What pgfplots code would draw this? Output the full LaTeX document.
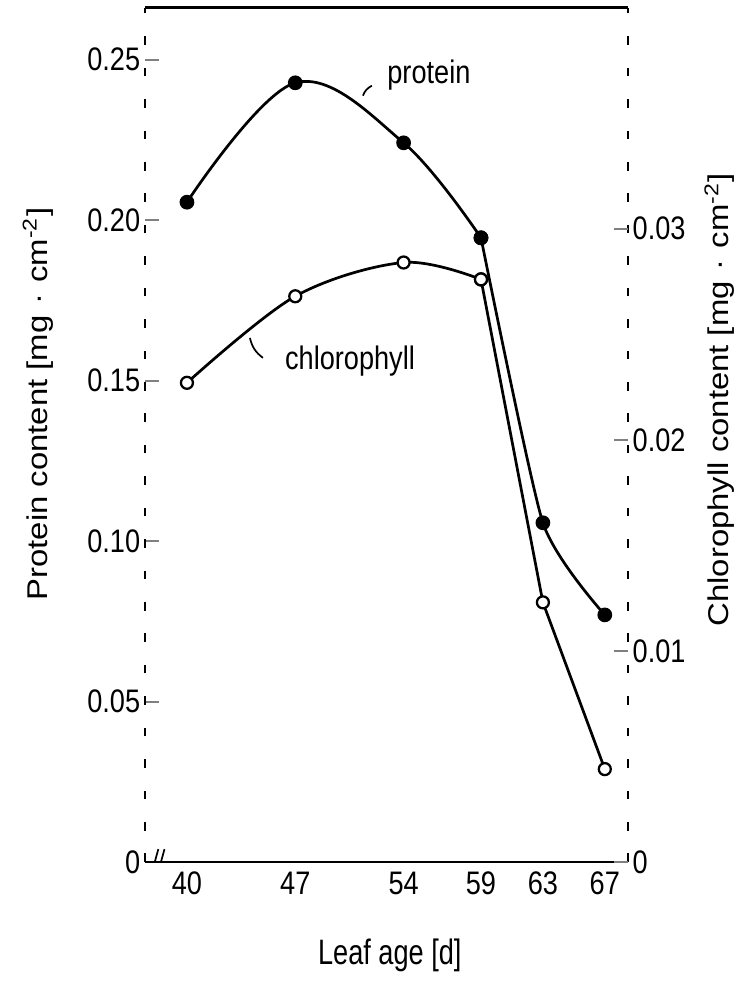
\documentclass[border=0pt]{standalone}
\usepackage{fontspec}
\setmainfont{Liberation Sans}
\usepackage{graphicx}
\usepackage{pgfplots}
\pgfplotsset{compat=1.18}

% the scan is stretched vertically: stretch horizontal text up, rotated text along its length
\newcommand\vs[1]{\scalebox{1}[1.2]{#1}}
\newcommand\hs[1]{\scalebox{1.15}[1]{#1}}

\begin{document}
\begin{tikzpicture}
\pgfplotsset{
  common/.style={
    scale only axis, width=169pt, height=299pt,
    xmin=37.29, xmax=68.49,
    tick align=inside,
    major tick length=5pt,
    /pgf/number format/assume math mode=true,
    ticklabel style={font=\fontsize{9.5}{11}\selectfont},
    tick style={line width=0.7pt},
  }
}
\begin{axis}[common,
  ymin=0, ymax=0.2662,
  separate axis lines,
  x axis line style={line width=0.9pt, solid},
  y axis line style={line width=0.6pt, dash pattern=on 3pt off 8pt},
  xtick={40,47,54,59,63,67},
  xticklabels={\vs{40},\vs{47},\vs{54},\vs{59},\vs{63},\vs{67}},
  xtick style={draw=none},
  xtick pos=bottom,
  ytick={0,0.05,0.10,0.15,0.20,0.25},
  yticklabels={\vs{0},\vs{0.05},\vs{0.10},\vs{0.15},\vs{0.20},\vs{0.25}},
  ytick pos=left,
  yticklabel style={inner sep=1.5pt},
  xlabel={\scalebox{1}[1.3]{Leaf age [d]}},
  xlabel style={font=\fontsize{9.5}{11}\selectfont, at={(axis description cs:0.507,-0.109)}, anchor=center},
  ylabel={\hs{Protein content [mg\,\,·\,\,cm\textsuperscript{-2}]}},
  ylabel style={font=\fontsize{10}{12}\selectfont, at={(axis description cs:-0.222,0.536)}, anchor=center, rotate=0},
]
% protein: smooth arc up to day 59, then the steep fall
\addplot[black, line width=0.95pt, smooth, tension=0.6, mark=*, mark size=2.1pt]
  coordinates {(40,0.2056) (47,0.2428) (54,0.2241) (59,0.1945)};
\addplot[black, line width=0.95pt, smooth, tension=0.35, mark=*, mark size=2.1pt]
  coordinates {(59,0.1945) (63,0.1057) (67,0.0770)};

\node[anchor=base west, font=\fontsize{9.5}{11}\selectfont] at (axis cs:52.3,0.2425) {\vs{protein}};
\draw[line width=0.6pt] (axis cs:51.37,0.2388) to[bend left=20] (axis cs:51.95,0.2419);
\node[anchor=base west, font=\fontsize{9.5}{11}\selectfont] at (axis cs:45.69,0.1534) {\vs{chlorophyll}};
\draw[line width=0.6pt] (axis cs:44.07,0.1633) to[bend right=20] (axis cs:44.91,0.1571);

% axis break on the x axis
\draw[line width=0.6pt] (axis cs:37.75,-0.003) -- (axis cs:38.15,0.004);
\draw[line width=0.6pt] (axis cs:38.15,-0.003) -- (axis cs:38.55,0.004);
\end{axis}

\begin{axis}[common,
  ymin=0, ymax=0.04047,
  hide x axis,
  xtick=\empty,
  axis y line*=right,
  y axis line style={draw=none},
  ytick={0,0.01,0.02,0.03},
  yticklabels={\vs{0},\vs{0.01},\vs{0.02},\vs{0.03}},
  yticklabel style={inner sep=1.5pt},
  ylabel={\hs{Chlorophyll content [mg\,\,·\,\,cm\textsuperscript{-2}]}},
  ylabel style={font=\fontsize{10}{12}\selectfont, at={(axis description cs:1.19,0.541)}, anchor=center, rotate=0},
]
\addplot[black, line width=0.95pt, smooth, tension=0.55, mark=*, mark size=2.1pt, mark options={fill=white, line width=0.8pt}]
  coordinates {(40,0.0227) (47,0.0268) (54,0.0284) (59,0.0276)};
\addplot[black, line width=0.95pt, mark=*, mark size=2.1pt, mark options={fill=white, line width=0.8pt}]
  coordinates {(59,0.0276) (63,0.0123) (67,0.0044)};
\end{axis}

\pgfresetboundingbox
\path[use as bounding box] ([shift={(-50.75pt,-43.75pt)}]current axis.south west)
  rectangle ([shift={(207.9pt,301.7pt)}]current axis.south west);
\end{tikzpicture}
\end{document}
